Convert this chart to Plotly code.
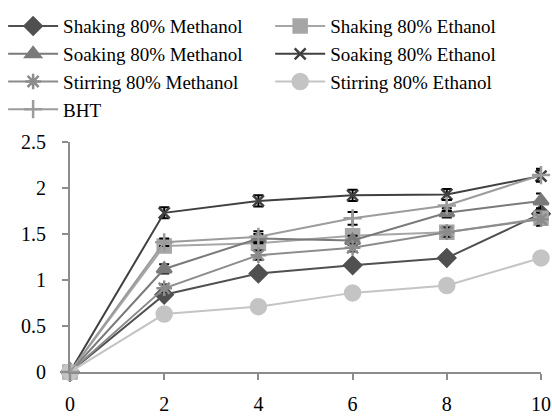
import plotly.graph_objects as go

x = [0, 2, 4, 6, 8, 10]

names = ["Shaking 80% Methanol", "Shaking 80% Ethanol", "Soaking 80% Methanol",
         "Soaking 80% Ethanol", "Stirring 80% Methanol", "Stirring 80% Ethanol", "BHT"]

shake_meoh = [0, 0.84, 1.07, 1.16, 1.24, 1.72]
shake_etoh = [0, 1.37, 1.40, 1.48, 1.52, 1.67]
soak_meoh = [0, 1.12, 1.45, 1.43, 1.73, 1.86]
soak_etoh = [0, 1.73, 1.86, 1.92, 1.93, 2.13]
stir_meoh = [0, 0.91, 1.27, 1.35, 1.52, 1.66]
stir_etoh = [0, 0.63, 0.71, 0.86, 0.94, 1.24]
bht = [0, 1.41, 1.47, 1.67, 1.81, 2.14]

err_shake_meoh = [0, 0.04, 0.04, 0.04, 0.04, 0.05]
err_shake_etoh = [0, 0.05, 0.05, 0.04, 0.05, 0.05]
err_soak_meoh = [0, 0.05, 0.05, 0.05, 0.05, 0.08]
err_soak_etoh = [0, 0.06, 0.06, 0.06, 0.06, 0.06]
err_stir_meoh = [0, 0.04, 0.05, 0.04, 0.05, 0.07]
err_stir_etoh = [0, 0.02, 0.02, 0.02, 0.02, 0.03]
err_bht = [0, 0.04, 0.06, 0.07, 0.06, 0.07]

series = [shake_meoh, shake_etoh, soak_meoh, soak_etoh, stir_meoh, stir_etoh, bht]
errors = [err_shake_meoh, err_shake_etoh, err_soak_meoh, err_soak_etoh,
          err_stir_meoh, err_stir_etoh, err_bht]
colors = ["#505050", "#a6a6a6", "#7a7a7a", "#404040", "#8c8c8c", "#c4c4c4", "#9c9c9c"]
symbols = ["diamond", "square", "triangle-up", "x-thin-open", "asterisk-open", "circle", "cross-thin-open"]
sizes = [13, 13, 13, 11, 13, 15, 13]
legend_ids = ["legend", "legend2", "legend", "legend2", "legend", "legend2", "legend"]

FONT = "Liberation Serif, Times New Roman, serif"

fig = go.Figure()
for n, y, e, c, s, sz, lg in zip(names, series, errors, colors, symbols, sizes, legend_ids):
    fig.add_trace(go.Scatter(
        x=x, y=y, name=n, mode="lines+markers",
        line=dict(color=c, width=2),
        marker=dict(symbol=s, size=sz, color=c, line=dict(color=c, width=2.5)),
        error_y=dict(type="data", array=e, visible=True, color="black", thickness=2, width=5),
        cliponaxis=False, legend=lg,
    ))

axis_common = dict(
    showline=True, linecolor="#8c8c8c", linewidth=2,
    ticks="outside", tickcolor="#8c8c8c", ticklen=6, tickwidth=2,
    showgrid=False, zeroline=False,
    tickfont=dict(family=FONT, size=20, color="black"),
)

legend_common = dict(
    orientation="v", xanchor="left", yanchor="top", y=1.586,
    itemwidth=50, font=dict(family=FONT, size=19, color="black"),
    bgcolor="rgba(0,0,0,0)", tracegroupgap=0,
)

fig.update_layout(
    width=552, height=416,
    margin=dict(l=70, r=11, t=142, b=44, autoexpand=False),
    paper_bgcolor="white", plot_bgcolor="white",
    font=dict(family=FONT, size=20, color="black"),
    xaxis=dict(range=[0, 10], tickvals=[0, 2, 4, 6, 8, 10], automargin=False,
               ticklabelstandoff=7, **axis_common),
    yaxis=dict(range=[0, 2.5], tickvals=[0, 0.5, 1, 1.5, 2, 2.5], automargin=False,
               ticklabelstandoff=12, **axis_common),
    showlegend=True,
    legend=dict(x=-0.142, **legend_common),
    legend2=dict(x=0.425, **legend_common),
)

fig.write_html("out.html", config={"displayModeBar": False},
               post_script="document.body.style.margin='0';")
